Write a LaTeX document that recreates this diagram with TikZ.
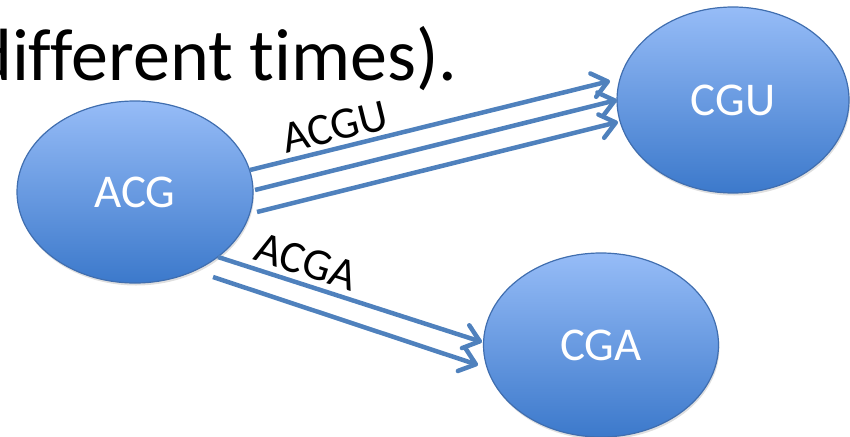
\documentclass[tikz,border=0pt]{standalone}
\usepackage{fontspec}
\setmainfont{Carlito}[Ligatures={NoCommon}]
\usetikzlibrary{shapes.geometric,arrows.meta,shadows}
\definecolor{arrblue}{RGB}{79,129,189}
\definecolor{topblue}{RGB}{150,188,247}
\definecolor{botblue}{RGB}{60,121,203}
\definecolor{edgeblue}{RGB}{64,110,175}
\tikzset{
  state/.style={ellipse, draw=edgeblue, line width=1.2pt, inner sep=0pt,
    top color=topblue, bottom color=botblue, shading=axis,
    drop shadow={opacity=0.25, shadow xshift=1pt, shadow yshift=-2.5pt},
    text=white, font=\fontsize{47}{50}\selectfont},
  flow/.style={draw=arrblue, line width=4.5pt,
    -{Straight Barb[length=15pt,width=24pt,line cap=round,line join=round]}},
  lbl/.style={font=\fontsize{45}{50}\selectfont, text=black, inner sep=0pt}
}
\begin{document}
\begin{tikzpicture}[x=1pt,y=-1pt]
\useasboundingbox (0,0) rectangle (850,436);
\clip (0,0) rectangle (850,436);
\node[anchor=base west, inner sep=0pt, font=\fontsize{74}{80}\selectfont] (title) at (-27,80) {different times).};
\node[state, minimum width=236pt, minimum height=182pt] (ACG) at (135,192) {ACG};
\node[state, minimum width=232pt, minimum height=186pt] (CGU) at (733,100) {CGU};
\node[state, minimum width=235pt, minimum height=184pt] (CGA) at (601,345) {CGA};
\coordinate (u1s) at (250,170);
\coordinate (u1e) at (610,81);
\coordinate (u2s) at (255,190);
\coordinate (u2e) at (617,100);
\coordinate (u3s) at (257,212);
\coordinate (u3e) at (618,122);
\coordinate (a1s) at (218,257);
\coordinate (a1e) at (482,342);
\coordinate (a2s) at (213,277);
\coordinate (a2e) at (478,365);
\draw[flow] (u1s) -- (u1e);
\draw[flow] (u2s) -- (u2e);
\draw[flow] (u3s) -- (u3e);
\draw[flow] (a1s) -- (a1e);
\draw[flow] (a2s) -- (a2e);
\node[lbl, rotate=14] (lu) at (335,127) {ACGU};
\node[lbl, rotate=-18] (la) at (306,262) {ACGA};
\end{tikzpicture}
\end{document}
